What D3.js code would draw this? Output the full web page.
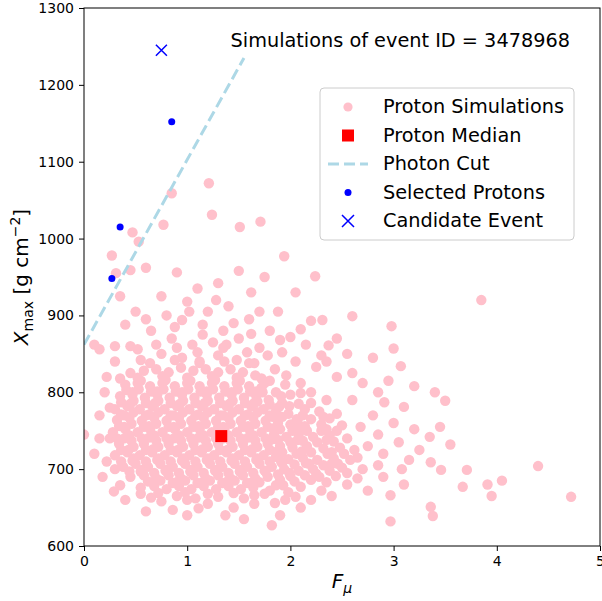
<!DOCTYPE html>
<html>
<head>
<meta charset="utf-8">
<script src="https://d3js.org/d3.v7.min.js"></script>
<style>
  body { margin: 0; background: #fff; }
  text { font-family: "DejaVu Sans", sans-serif; }
</style>
</head>
<body>
<svg id="chart" width="602" height="601"></svg>
<script>
// proton simulations [F_mu, Xmax]
const protonSims = [
  [1.21,1072],[1.24,1031],[1.51,1015],[1.71,1022],[0.85,1059],[0.77,1018],[1.94,977],[2.24,951],
  [3.85,920],[2.6,899],[2.98,886],[2.31,894],[3.07,834],[2.37,861],[3.5,789],[4.4,704],[4.72,664],
  [3.71,699],[3.67,677],[3.91,680],[3.95,665],[4.05,685],[3.46,699],[3.36,709],[3.36,651],[3.38,639],
  [2.97,632],[2.97,666],[3.08,700],[3.1,781],[2.91,787],[2.68,755],[0.27,978],[0.47,1008],[0.53,996],
  [0.15,856],[0.1,862],[0.35,925],[0.45,959],[0.31,955],[0.0,745],[0.29,671],[0.35,679],[0.6,645],
  [0.86,647],[1.37,640],[1.82,627],[1.9,640],[1.11,649],
  // upper sparse part
  [0.6,962],[0.9,956],[1.1,935],[1.3,942],[1.5,958],[1.75,950],[1.0,918],[1.2,905],[1.4,912],
  [1.62,930],[1.88,905],[2.05,930],[0.75,925],[0.95,894],[1.15,888],[1.35,880],[1.6,895],[1.8,880],
  [2.0,872],[2.2,893],[0.5,905],[0.4,888],[0.45,860],[0.65,880],[0.85,870],[1.05,862],[1.25,865],
  [1.5,870],[1.7,858],[1.92,852],[2.15,862],[2.45,870],[2.55,850],[2.8,845],[3.0,857],[0.3,840],
  [0.55,842],[0.75,850],[0.95,845],[1.12,840],[1.3,848],[1.48,842],[1.65,838],[1.85,830],[2.05,840],
  [2.25,833],[2.45,820],[2.7,812],[2.95,815],[3.2,808],[3.4,800],[0.35,818],[0.2,800],[0.25,780],
  [2.6,790],[2.8,770],[3.0,760],[3.2,752],[3.35,742],[3.55,732],[3.05,735],[3.25,725],[2.85,745],
  [3.15,712],[2.9,720],[2.7,700],[2.9,690],[3.1,680],[2.75,672],[2.55,680],[2.4,665],[2.2,660],
  [0.15,770],[0.1,720],[0.18,690],[0.3,700],[0.4,660],[0.55,668],[0.75,658],[1.0,660],[1.2,655],
  [1.45,650],[1.65,655],[1.95,660],[2.1,650],[1.55,635],[1.0,640],[1.75,668],[0.25,740],[3.45,755],
  [1.02,905],[1.28,920],[1.45,890],[1.7,905],[0.88,885],[1.15,875],[1.38,862],[1.62,876],[1.9,868],
  [2.1,882],[2.35,840],[2.6,825],[2.85,800],[2.75,730],[2.65,715],[2.85,705],[2.55,695],[2.65,688],
  [0.6,895],[0.8,900],[0.3,860],[0.22,820],[0.15,740],[0.22,710],
  // dense core
  [0.45,825],[0.58,828],[0.7,830],[0.82,826],[0.94,832],[1.06,828],[1.18,830],[1.3,826],[1.42,830],[1.54,826],[1.66,822],[1.8,815],[1.95,810],[2.1,812],
  [0.4,810],[0.52,812],[0.64,808],[0.76,812],[0.88,808],[1.0,812],[1.12,808],[1.24,812],[1.36,808],[1.48,812],[1.6,808],[1.72,806],[1.86,800],[2.0,797],[2.2,800],
  [0.35,795],[0.47,797],[0.59,793],[0.71,797],[0.83,793],[0.95,797],[1.07,793],[1.19,797],[1.31,793],[1.43,797],[1.55,793],[1.67,795],[1.79,790],[1.92,786],[2.08,785],[2.35,790],
  [0.3,778],[0.42,782],[0.54,778],[0.66,782],[0.78,778],[0.9,782],[1.02,778],[1.14,782],[1.26,778],[1.38,782],[1.5,778],[1.62,782],[1.74,778],[1.86,775],[1.98,772],[2.12,770],[2.28,775],[2.45,772],
  [0.32,764],[0.44,767],[0.56,763],[0.68,767],[0.8,763],[0.92,767],[1.04,763],[1.16,767],[1.28,763],[1.4,767],[1.52,763],[1.64,767],[1.76,763],[1.88,760],[2.0,758],[2.14,756],[2.3,758],[2.5,757],
  [0.28,748],[0.4,752],[0.52,748],[0.64,752],[0.76,748],[0.88,752],[1.0,748],[1.12,752],[1.24,748],[1.36,752],[1.48,748],[1.6,752],[1.72,748],[1.84,745],[1.96,742],[2.08,745],[2.22,742],[2.38,744],[2.55,740],
  [0.34,733],[0.46,737],[0.58,733],[0.7,737],[0.82,733],[0.94,737],[1.06,733],[1.18,737],[1.3,733],[1.42,737],[1.54,733],[1.66,737],[1.78,733],[1.9,730],[2.02,728],[2.16,730],[2.32,727],[2.48,728],[2.62,725],
  [0.3,718],[0.42,722],[0.54,718],[0.66,722],[0.78,718],[0.9,722],[1.02,718],[1.14,722],[1.26,718],[1.38,722],[1.5,718],[1.62,722],[1.74,718],[1.86,716],[1.98,713],[2.12,715],[2.26,712],[2.42,714],[2.58,712],
  [0.38,703],[0.5,707],[0.62,703],[0.74,707],[0.86,703],[0.98,707],[1.1,703],[1.22,707],[1.34,703],[1.46,707],[1.58,703],[1.7,707],[1.82,703],[1.94,700],[2.08,698],[2.22,700],[2.38,698],[2.5,702],
  [0.45,690],[0.58,692],[0.7,688],[0.82,692],[0.94,688],[1.06,692],[1.18,688],[1.3,692],[1.42,688],[1.54,692],[1.66,688],[1.78,690],[1.9,686],[2.04,684],[2.2,686],[2.35,683],
  [0.55,676],[0.68,678],[0.8,674],[0.92,678],[1.04,674],[1.16,678],[1.28,674],[1.4,678],[1.52,674],[1.64,676],[1.8,672],[1.98,670],[2.3,672],
  [0.65,663],[0.9,665],[1.08,662],[1.3,664],[1.55,662],[1.85,656],
  [0.52,856],[0.7,862],[0.9,858],[1.1,852],[1.35,858],[1.58,852],[1.78,848],[2.3,848],
  // in-between core points
  [0.64,838],[0.88,842],[1.12,838],[1.36,840],[1.6,838],
  [0.52,819],[0.76,821],[1.0,819],[1.24,821],[1.48,819],[1.72,818],[1.96,822],
  [0.41,803],[0.53,804],[0.65,801],[0.77,804],[0.89,801],[1.01,804],[1.13,801],[1.25,804],[1.37,801],[1.49,804],[1.61,801],[1.73,800],[2.1,799],
  [0.36,787],[0.48,789],[0.6,786],[0.72,789],[0.84,786],[0.96,789],[1.08,786],[1.2,789],[1.32,786],[1.44,789],[1.56,786],[1.68,788],[1.8,784],[1.99,782],[2.2,786],
  [0.36,771],[0.48,774],[0.6,770],[0.72,774],[0.84,770],[0.96,774],[1.08,770],[1.2,774],[1.32,770],[1.44,774],[1.56,770],[1.68,774],[1.8,770],[1.92,768],[2.06,765],[2.2,765],[2.38,766],
  [0.34,756],[0.46,759],[0.58,755],[0.7,759],[0.82,755],[0.94,759],[1.06,755],[1.18,759],[1.3,755],[1.42,759],[1.54,755],[1.66,759],[1.78,755],[1.9,752],[2.02,750],[2.16,750],[2.3,750],[2.45,750],
  [0.32,740],[0.44,744],[0.56,740],[0.68,744],[0.8,740],[0.92,744],[1.04,740],[1.16,744],[1.28,740],[1.4,744],[1.52,740],[1.64,744],[1.76,740],[1.88,738],[2.0,735],[2.12,737],[2.26,735],[2.42,736],
  [0.36,725],[0.48,729],[0.6,725],[0.72,729],[0.84,725],[0.96,729],[1.08,725],[1.2,729],[1.32,725],[1.44,729],[1.56,725],[1.68,729],[1.8,725],[1.92,722],[2.06,720],[2.2,722],[2.36,720],[2.52,720],
  [0.36,710],[0.48,714],[0.6,710],[0.72,714],[0.84,710],[0.96,714],[1.08,710],[1.2,714],[1.32,710],[1.44,714],[1.56,710],[1.68,714],[1.8,710],[1.92,708],[2.04,706],[2.18,707],[2.32,705],[2.46,707],
  [0.44,697],[0.56,699],[0.68,695],[0.8,699],[0.92,695],[1.04,699],[1.16,695],[1.28,699],[1.4,695],[1.52,699],[1.64,695],[1.76,697],[1.88,693],[2.0,691],[2.14,692],[2.28,690],[2.44,691],
  [0.62,684],[0.74,685],[0.86,682],[0.98,685],[1.1,682],[1.22,685],[1.34,682],[1.46,685],[1.58,682],[1.7,683],[1.86,679],[2.1,677],
  [0.72,669],[0.98,670],[1.2,668],[1.45,669],[1.65,666],[2.05,664],
  // extra fill in the crowded middle
  [0.55,815],[0.79,816],[1.03,815],[1.27,816],[1.51,815],[1.75,812],
  [0.47,800],[0.71,801],[0.95,800],[1.19,801],[1.43,800],[1.67,801],[1.91,795],
  [0.45,785],[0.69,786],[0.93,785],[1.17,786],[1.41,785],[1.65,786],[1.89,781],[2.14,778],
  [0.39,770],[0.63,771],[0.87,770],[1.11,771],[1.35,770],[1.59,771],[1.83,768],[2.07,764],[2.32,768],
  [0.39,755],[0.63,756],[0.87,755],[1.11,756],[1.35,755],[1.59,756],[1.83,753],[2.07,753],[2.35,752],
  [0.39,740],[0.63,741],[0.87,740],[1.11,741],[1.35,740],[1.59,741],[1.83,739],[2.07,738],[2.35,738],
  [0.43,725],[0.67,726],[0.91,725],[1.15,726],[1.39,725],[1.63,726],[1.87,723],[2.11,723],[2.4,722],
  [0.47,711],[0.71,712],[0.95,711],[1.19,712],[1.43,711],[1.67,712],[1.91,710],[2.15,708],[2.4,707],
  [0.55,697],[0.79,698],[1.03,697],[1.27,698],[1.51,697],[1.75,698],[1.99,695],[2.25,694],
  [0.67,683],[0.91,684],[1.15,683],[1.39,684],[1.63,683],[1.93,679]
];
const protonMedian = [[1.33, 743]];
const photonCut = [[0.0, 862], [1.55, 1235]];
const selectedProtons = [[0.27, 948], [0.35, 1015], [0.85, 1152]];
const candidateEvent = [[0.75, 1245]];
const xTicks = [0, 1, 2, 3, 4, 5];
const yTicks = [600, 700, 800, 900, 1000, 1100, 1200, 1300];

const svg = d3.select("#chart");
const m = {left: 84, top: 8, right: 600, bottom: 546};
const x = d3.scaleLinear().domain([0, 5]).range([m.left, m.right]);
const y = d3.scaleLinear().domain([600, 1300]).range([m.bottom, m.top]);

svg.append("defs").append("clipPath").attr("id", "clip")
  .append("rect").attr("x", m.left).attr("y", m.top)
  .attr("width", m.right - m.left).attr("height", m.bottom - m.top);

const plot = svg.append("g").attr("clip-path", "url(#clip)");

plot.selectAll("circle.sim").data(protonSims).join("circle")
  .attr("class", "sim")
  .attr("cx", d => x(d[0])).attr("cy", d => y(d[1])).attr("r", 5.2)
  .attr("fill", "pink");

plot.selectAll("rect.med").data(protonMedian).join("rect")
  .attr("x", d => x(d[0]) - 6).attr("y", d => y(d[1]) - 6)
  .attr("width", 12).attr("height", 12).attr("fill", "red");

plot.append("path").datum(photonCut)
  .attr("d", d3.line().x(d => x(d[0])).y(d => y(d[1])))
  .attr("stroke", "lightblue").attr("stroke-width", 3)
  .attr("stroke-dasharray", "11,5").attr("fill", "none");

plot.selectAll("circle.sel").data(selectedProtons).join("circle")
  .attr("cx", d => x(d[0])).attr("cy", d => y(d[1])).attr("r", 3.5)
  .attr("fill", "blue");

candidateEvent.forEach(d => {
  const cx = x(d[0]), cy = y(d[1]), s = 5.5;
  plot.append("path")
    .attr("d", `M${cx - s},${cy - s}L${cx + s},${cy + s}M${cx - s},${cy + s}L${cx + s},${cy - s}`)
    .attr("stroke", "blue").attr("stroke-width", 1.5);
});

// axes
const xAxis = svg.append("g").attr("transform", `translate(0,${m.bottom})`)
  .call(d3.axisBottom(x).tickValues(xTicks).tickFormat(d3.format("d")).tickSize(5).tickPadding(5));
const yAxis = svg.append("g").attr("transform", `translate(${m.left},0)`)
  .call(d3.axisLeft(y).tickValues(yTicks).tickFormat(d3.format("d")).tickSize(5).tickPadding(5));
[xAxis, yAxis].forEach(a => {
  a.selectAll("text").attr("font-size", 14).attr("fill", "#000")
    .style("font-family", "DejaVu Sans");
  a.select(".domain").remove();
});
svg.append("rect").attr("x", m.left).attr("y", m.top)
  .attr("width", m.right - m.left).attr("height", m.bottom - m.top)
  .attr("fill", "none").attr("stroke", "#000").attr("stroke-width", 1);

svg.append("text").attr("x", (m.left + m.right) / 2).attr("y", 588)
  .attr("text-anchor", "middle").attr("font-size", 20).attr("font-style", "italic")
  .html('F<tspan font-size="14" dy="5" font-style="italic">μ</tspan>');

svg.append("text").attr("transform", "translate(28,277) rotate(-90)")
  .attr("text-anchor", "middle").attr("font-size", 20)
  .html('<tspan font-style="italic">X</tspan><tspan font-size="14" dy="5">max</tspan><tspan dy="-5"> [g cm</tspan><tspan font-size="14" dy="-8">−2</tspan><tspan dy="8">]</tspan>');

svg.append("text").attr("x", 570).attr("y", 47).attr("text-anchor", "end")
  .attr("font-size", 19.3).text("Simulations of event ID = 3478968");

// legend
const lg = svg.append("g").attr("transform", "translate(320,88)");
lg.append("rect").attr("width", 254).attr("height", 152).attr("rx", 4)
  .attr("fill", "#fff").attr("fill-opacity", 0.85).attr("stroke", "#ccc");
const items = ["Proton Simulations", "Proton Median", "Photon Cut", "Selected Protons", "Candidate Event"];
items.forEach((t, i) => {
  const cy = 19 + i * 28.5, cx = 28;
  const g = lg.append("g");
  if (i === 0) g.append("circle").attr("cx", cx).attr("cy", cy).attr("r", 4.6).attr("fill", "pink");
  if (i === 1) g.append("rect").attr("x", cx - 6).attr("y", cy - 6).attr("width", 12).attr("height", 12).attr("fill", "red");
  if (i === 2) g.append("line").attr("x1", 8).attr("x2", 48).attr("y1", cy).attr("y2", cy)
    .attr("stroke", "lightblue").attr("stroke-width", 3).attr("stroke-dasharray", "11,5");
  if (i === 3) g.append("circle").attr("cx", cx).attr("cy", cy).attr("r", 3.5).attr("fill", "blue");
  if (i === 4) g.append("path").attr("d", `M${cx - 6},${cy - 6}L${cx + 6},${cy + 6}M${cx - 6},${cy + 6}L${cx + 6},${cy - 6}`)
    .attr("stroke", "blue").attr("stroke-width", 1.5);
  g.append("text").attr("x", 63).attr("y", cy + 6).attr("font-size", 19.3).text(t);
});
</script>
</body>
</html>
